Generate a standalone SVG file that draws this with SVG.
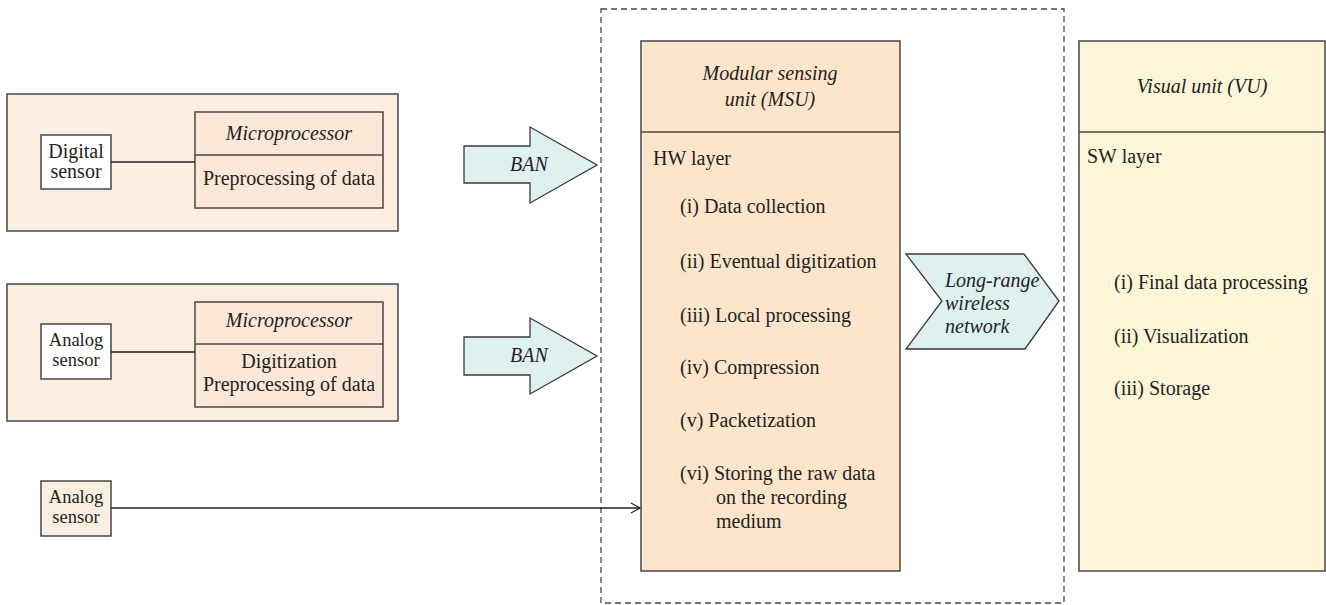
<svg xmlns="http://www.w3.org/2000/svg" width="1326" height="605" viewBox="0 0 1326 605">
<style>
  text { font-family: "Liberation Serif", "Times New Roman", serif; font-size: 20px; fill: #231f20; }
  .it { font-style: italic; }
  .mid { text-anchor: middle; }
  .sm { font-size: 18.5px; }
  .box { stroke: #4a4646; stroke-width: 1.5; }
  .outer { fill: #f9eee0; }
  .white { fill: #ffffff; }
  .micro { fill: #fbe8d8; }
  .msu { fill: #fde5cc; }
  .vu { fill: #fdf5d8; }
  .arrow { fill: #def0f0; stroke: #3a3a3a; stroke-width: 1.3; }
  .line { stroke: #231f20; stroke-width: 1.5; fill: none; }
  .dash { fill: none; stroke: #4a4646; stroke-width: 1.3; stroke-dasharray: 6 4; }
</style>
<defs>
  <marker id="open" markerWidth="12" markerHeight="12" refX="10" refY="6" orient="auto" markerUnits="userSpaceOnUse">
    <path d="M1,1 L10,6 L1,11" fill="none" stroke="#231f20" stroke-width="1.2"/>
  </marker>
</defs>

<rect id="msu-boundary" class="dash" x="601" y="9" width="463" height="594"/>

<g id="digital-module">
  <rect class="box outer" x="7" y="94" width="391" height="137"/>
</g>
<g id="digital-sensor">
  <rect class="box white" x="41" y="135" width="70" height="54"/>
  <text class="mid" x="76" y="158">Digital</text>
  <text class="mid" x="76" y="178">sensor</text>
</g>
<g id="microprocessor-1">
  <rect class="box micro" x="195" y="112" width="188" height="96"/>
  <line class="box" x1="195" y1="155" x2="383" y2="155"/>
  <text class="it mid" x="289" y="140">Microprocessor</text>
  <text class="mid" x="289" y="185">Preprocessing of data</text>
</g>

<g id="analog-module">
  <rect class="box outer" x="7" y="284" width="391" height="137"/>
</g>
<g id="analog-sensor-1">
  <rect class="box white" x="41" y="324" width="70" height="55"/>
  <text class="mid sm" x="76" y="346">Analog</text>
  <text class="mid sm" x="76" y="366">sensor</text>
</g>
<g id="microprocessor-2">
  <rect class="box micro" x="195" y="302" width="188" height="105"/>
  <line class="box" x1="195" y1="344" x2="383" y2="344"/>
  <text class="it mid" x="289" y="327">Microprocessor</text>
  <text class="mid" x="289" y="368">Digitization</text>
  <text class="mid" x="289" y="391">Preprocessing of data</text>
</g>

<g id="analog-sensor-2">
  <rect class="box outer" x="41" y="481" width="70" height="55"/>
  <text class="mid sm" x="76" y="503">Analog</text>
  <text class="mid sm" x="76" y="523">sensor</text>
</g>

<g id="ban-1">
  <polygon class="arrow" points="464,146 530,146 530,127 597,165 530,203 530,183 464,183"/>
  <text class="it mid" x="529" y="171">BAN</text>
</g>
<g id="ban-2">
  <polygon class="arrow" points="464,337 530,337 530,318 597,356 530,394 530,375 464,375"/>
  <text class="it mid" x="529" y="362">BAN</text>
</g>

<g id="msu">
  <rect class="box msu" x="641" y="41" width="259" height="530"/>
  <line class="box" x1="641" y1="132" x2="900" y2="132"/>
  <text class="it mid" x="770" y="80">Modular sensing</text>
  <text class="it mid" x="770" y="106">unit (MSU)</text>
  <text x="653" y="165">HW layer</text>
  <text x="680" y="213">(i) Data collection</text>
  <text x="680" y="268">(ii) Eventual digitization</text>
  <text x="680" y="322">(iii) Local processing</text>
  <text x="680" y="374">(iv) Compression</text>
  <text x="680" y="427">(v) Packetization</text>
  <text x="680" y="480">(vi) Storing the raw data</text>
  <text x="716" y="504">on the recording</text>
  <text x="716" y="528">medium</text>
</g>

<g id="long-range">
  <polygon class="arrow" points="906,254 1024,254 1059,301 1025,349 906,349 942,301"/>
  <text class="it" x="945" y="287">Long-range</text>
  <text class="it" x="945" y="310">wireless</text>
  <text class="it" x="945" y="333">network</text>
</g>

<g id="vu">
  <rect class="box vu" x="1079" y="41" width="246" height="530"/>
  <line class="box" x1="1079" y1="132" x2="1325" y2="132"/>
  <text class="it mid" x="1202" y="93">Visual unit (VU)</text>
  <text x="1087" y="163">SW layer</text>
  <text x="1114" y="289">(i) Final data processing</text>
  <text x="1114" y="343">(ii) Visualization</text>
  <text x="1114" y="395">(iii) Storage</text>
</g>

<g id="connectors">
  <line class="line" x1="111" y1="162" x2="195" y2="162"/>
  <line class="line" x1="111" y1="352" x2="195" y2="352"/>
  <line class="line" x1="111" y1="508" x2="640" y2="508" marker-end="url(#open)"/>
</g>
</svg>
